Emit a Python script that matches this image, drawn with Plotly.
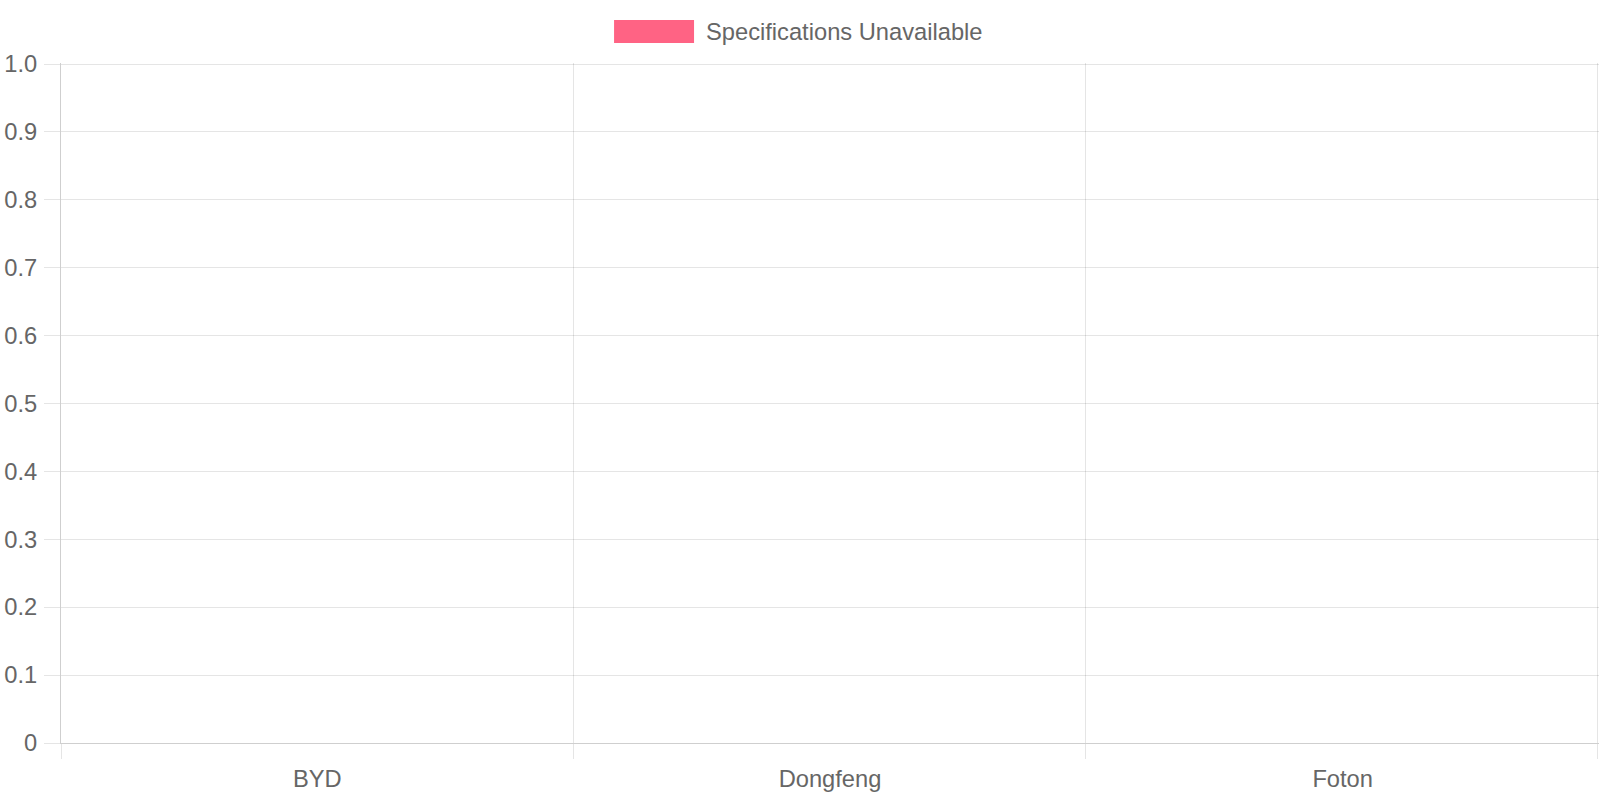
import plotly.graph_objs as go

# brands with no spec data -> all zero bars
brands = ['BYD', 'Dongfeng', 'Foton']
unavailable = [0, 0, 0]
series_name = 'Specifications Unavailable'

y_ticks = [0, 0.1, 0.2, 0.3, 0.4, 0.5, 0.6, 0.7, 0.8, 0.9, 1.0]
y_labels = ['0', '0.1', '0.2', '0.3', '0.4', '0.5', '0.6', '0.7', '0.8', '0.9', '1.0']

bar_color = 'rgba(255,99,132,1)'
grid = 'rgba(0,0,0,0.1)'
axis = 'rgba(0,0,0,0.19)'
txt = '#666666'

fig = go.Figure()
fig.add_trace(go.Bar(x=brands, y=unavailable, name=series_name,
                     marker=dict(color=bar_color, line=dict(width=0)),
                     showlegend=False))

# category boundary grid lines (chart.js style offset grid)
fig.add_trace(go.Scatter(x=[], y=[], xaxis='x2', showlegend=False, hoverinfo='skip'))

fig.update_layout(
    width=1600, height=800,
    margin=dict(l=61, r=1, t=63, b=57),
    plot_bgcolor='white', paper_bgcolor='white',
    font=dict(family='Liberation Sans, Arial', size=23.7, color=txt),
    showlegend=False,
    xaxis=dict(type='category', range=[-0.5, 2.5], showgrid=False, zeroline=False,
               showline=True, linecolor=axis, linewidth=1, ticks='', ticklabelstandoff=15),
    xaxis2=dict(overlaying='x', range=[0, 3.002], tickvals=[0, 1, 2, 3], showticklabels=False,
                showgrid=True, gridcolor=grid, gridwidth=1, ticks='outside', ticklen=15,
                tickcolor=grid, zeroline=False, showline=False),
    yaxis=dict(range=[0, 1.0015], tickvals=y_ticks, ticktext=y_labels, showgrid=True,
               gridcolor=grid, ticks='outside', ticklen=16, tickcolor=grid,
               zeroline=False, showline=True, linecolor=axis, linewidth=1,
               ticklabelstandoff=2),
    bargap=0.2,
)

# legend box drawn chart.js style (wide swatch)
fig.add_shape(type='rect', xref='paper', yref='paper',
              x0=0.3596, x1=0.4116, y0=1.0294, y1=1.0632,
              fillcolor=bar_color, line=dict(width=0))
fig.add_annotation(text=series_name, xref='paper', yref='paper',
                   x=0.418, y=1.0456, xanchor='left', yanchor='middle',
                   showarrow=False, font=dict(size=23.7, color=txt))

fig.write_html('out.html', config={'displayModeBar': False},
               post_script="document.body.style.margin='0';document.body.style.overflow='hidden';")
